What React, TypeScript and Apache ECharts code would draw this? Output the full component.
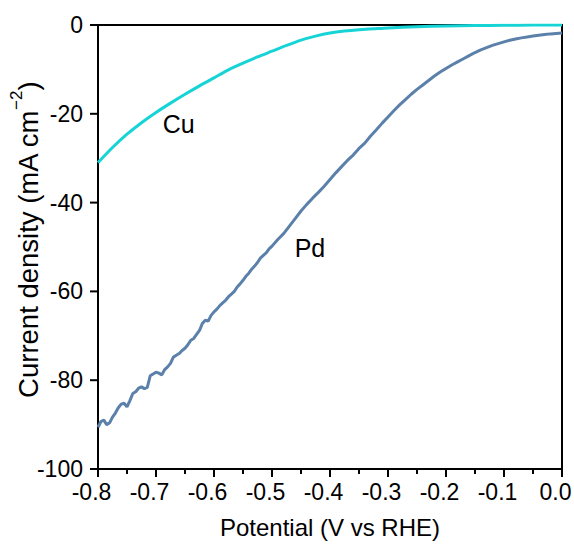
import React, { useEffect, useRef } from "react";
import * as echarts from "echarts";

const cuPotential = [
  -0.8, -0.775, -0.75, -0.725, -0.7, -0.675, -0.65, -0.625, -0.6, -0.575,
  -0.55, -0.525, -0.5, -0.475, -0.45, -0.425, -0.4, -0.375, -0.35, -0.325,
  -0.3, -0.25, -0.2, -0.15, -0.1, -0.05, 0.0,
];
const cuCurrent = [
  -31.0, -27.6, -24.6, -22.0, -19.7, -17.6, -15.6, -13.7, -11.9, -10.1,
  -8.6, -7.2, -5.9, -4.6, -3.4, -2.5, -1.8, -1.35, -1.05, -0.85,
  -0.65, -0.4, -0.22, -0.12, -0.06, -0.02, 0.0,
];

const pdPotential = [
  -0.8, -0.795, -0.79, -0.785, -0.78, -0.775, -0.77, -0.765, -0.76, -0.755,
  -0.75, -0.745, -0.74, -0.735, -0.73, -0.725, -0.72, -0.715, -0.71, -0.705,
  -0.7, -0.695, -0.69, -0.685, -0.68, -0.675, -0.67, -0.665, -0.66, -0.655,
  -0.65, -0.645, -0.64, -0.635, -0.63, -0.625, -0.62, -0.615, -0.61, -0.605,
  -0.6, -0.595, -0.59, -0.585, -0.58, -0.575, -0.57, -0.565, -0.56, -0.555,
  -0.55, -0.545, -0.54, -0.535, -0.53, -0.525, -0.52, -0.515, -0.51, -0.505,
  -0.5, -0.49, -0.48, -0.47, -0.46, -0.45, -0.44, -0.43, -0.42, -0.41,
  -0.4, -0.39, -0.38, -0.37, -0.36, -0.35, -0.34, -0.33, -0.32, -0.31,
  -0.3, -0.29, -0.28, -0.27, -0.26, -0.25, -0.24, -0.23, -0.22, -0.21,
  -0.2, -0.19, -0.18, -0.17, -0.16, -0.15, -0.14, -0.13, -0.12, -0.11,
  -0.1, -0.09, -0.08, -0.07, -0.06, -0.05, -0.04, -0.03, -0.02, -0.01, 0.0,
];
const pdCurrent = [
  -90.6, -89.3, -89.0, -90.0, -89.6, -88.3, -87.4, -86.2, -85.4, -85.2,
  -86.0, -84.6, -83.0, -82.6, -81.8, -81.5, -81.9, -81.6, -79.0, -78.6,
  -78.2, -78.4, -78.8, -77.6, -77.0, -76.2, -74.8, -74.4, -74.0, -73.3,
  -72.8, -72.0, -71.0, -70.6, -69.7, -68.8, -67.2, -66.5, -66.7, -65.4,
  -64.6, -64.0, -63.2, -62.6, -62.0, -61.2, -60.6, -60.0, -59.0, -58.3,
  -57.5, -56.6, -55.9, -55.0, -54.3, -53.5, -52.5, -51.9, -51.3, -50.4,
  -49.8, -48.3, -47.0, -45.3, -43.6, -41.9, -40.4, -39.0, -37.7, -36.3,
  -34.8, -33.3, -31.9, -30.5, -29.3, -27.8, -26.6, -25.0, -23.6, -22.1,
  -20.7, -19.3, -18.0, -16.8, -15.6, -14.5, -13.5, -12.5, -11.5, -10.6,
  -9.8, -9.0, -8.3, -7.6, -6.9, -6.2, -5.6, -5.1, -4.6, -4.2,
  -3.8, -3.45, -3.15, -2.9, -2.7, -2.5, -2.3, -2.15, -2.0, -1.9, -1.8,
];

const xMajorTicks = [-0.8, -0.7, -0.6, -0.5, -0.4, -0.3, -0.2, -0.1, 0.0];
const xMinorTicks = [-0.75, -0.65, -0.55, -0.45, -0.35, -0.25, -0.15, -0.05];
const yMajorTicks = [-100, -80, -60, -40, -20, 0];

const seriesNames = ["Cu", "Pd"];
const labelCoords = [
  [-0.661, -22.3],
  [-0.4345, -50.2],
];

export default function App() {
  const ref = useRef<HTMLDivElement>(null);
  useEffect(() => {
    if (!ref.current) return;
    const chart = echarts.init(ref.current, null, { renderer: "svg" });
    const font = "Liberation Sans, Arial, sans-serif";
    const mkLabel = (name: string, coord: number[]) => ({
      symbol: "circle",
      symbolSize: 0,
      silent: true,
      label: {
        show: true,
        position: "inside",
        formatter: name,
        color: "#000",
        fontSize: 25,
        fontFamily: font,
      },
      data: [{ coord }],
    });
    chart.setOption({
      animation: false,
      backgroundColor: "#fff",
      grid: {
        left: 98,
        right: 12,
        top: 25,
        bottom: 76,
        containLabel: false,
        outerBoundsMode: "none",
        show: false,
      },
      xAxis: [
        {
          type: "value",
          min: -0.8,
          max: 0,
          interval: 0.1,
          position: "bottom",
          name: "Potential (V vs RHE)",
          nameLocation: "middle",
          nameGap: 46,
          nameMoveOverlap: false,
          nameTextStyle: { fontSize: 24, color: "#000", fontFamily: font },
          axisLine: { show: true, onZero: false, lineStyle: { color: "#000", width: 2 } },
          axisTick: { show: false },
          splitLine: { show: false },
          axisLabel: {
            fontSize: 23,
            color: "#000",
            fontFamily: font,
            margin: 11,
            padding: [0, 13, 0, 0],
            formatter: (v: number) => v.toFixed(1),
          },
        },
        {
          type: "value",
          min: -0.8,
          max: 0,
          interval: 0.1,
          position: "top",
          axisLine: { show: true, onZero: false, lineStyle: { color: "#000", width: 2 } },
          axisTick: { show: false },
          axisLabel: { show: false },
          splitLine: { show: false },
        },
      ],
      yAxis: [
        {
          type: "value",
          min: -100,
          max: 0,
          interval: 20,
          position: "left",
          name: "{n|Current density (mA cm}{s|−2}{n|)}",
          nameLocation: "middle",
          nameGap: 56,
          nameRotate: 90,
          nameMoveOverlap: false,
          nameTextStyle: {
            color: "#000",
            fontFamily: font,
            padding: [0, 0, 0, 14],
            rich: {
              n: { fontSize: 27.5, lineHeight: 34, color: "#000", fontFamily: font, verticalAlign: "bottom" },
              s: { fontSize: 17, lineHeight: 34, color: "#000", fontFamily: font, verticalAlign: "top" },
            },
          },
          axisLine: { show: true, onZero: false, lineStyle: { color: "#000", width: 2 } },
          axisTick: { show: false },
          splitLine: { show: false },
          axisLabel: { fontSize: 23, color: "#000", fontFamily: font, margin: 15 },
        },
        {
          type: "value",
          min: -100,
          max: 0,
          interval: 20,
          position: "right",
          axisLine: { show: true, onZero: false, lineStyle: { color: "#000", width: 2 } },
          axisTick: { show: false },
          axisLabel: { show: false },
          splitLine: { show: false },
        },
      ],
      series: [
        {
          name: seriesNames[0],
          type: "line",
          showSymbol: false,
          smooth: 0.25,
          data: cuPotential.map((x, i) => [x, cuCurrent[i]]),
          lineStyle: { color: "#16d4d6", width: 3 },
          z: 3,
          markPoint: mkLabel(seriesNames[0], labelCoords[0]),
        },
        {
          name: seriesNames[1],
          type: "line",
          showSymbol: false,
          data: pdPotential.map((x, i) => [x, pdCurrent[i]]),
          lineStyle: { color: "#5b80aa", width: 3 },
          z: 2,
          markPoint: mkLabel(seriesNames[1], labelCoords[1]),
        },
      ],
    });

    // Tick marks placed through the chart's own scales.
    const finder = { xAxisIndex: 0, yAxisIndex: 0 };
    const ticks: any[] = [];
    const addX = (v: number, len: number) => {
      const p = chart.convertToPixel(finder, [v, -100]) as number[];
      ticks.push({
        type: "line",
        silent: true,
        z: 100,
        shape: { x1: p[0], y1: p[1], x2: p[0], y2: p[1] + len },
        style: { stroke: "#000", lineWidth: 2 },
      });
    };
    const addY = (v: number, len: number) => {
      const p = chart.convertToPixel(finder, [-0.8, v]) as number[];
      ticks.push({
        type: "line",
        silent: true,
        z: 100,
        shape: { x1: p[0] - len, y1: p[1], x2: p[0], y2: p[1] },
        style: { stroke: "#000", lineWidth: 2 },
      });
    };
    xMajorTicks.forEach((v) => addX(v, 8));
    xMinorTicks.forEach((v) => addX(v, 5));
    yMajorTicks.forEach((v) => addY(v, 8));
    chart.setOption({ graphic: { elements: ticks } });

    return () => chart.dispose();
  }, []);
  return <div ref={ref} style={{ width: 574, height: 545, position: "absolute", left: 0, top: 0 }} />;
}
